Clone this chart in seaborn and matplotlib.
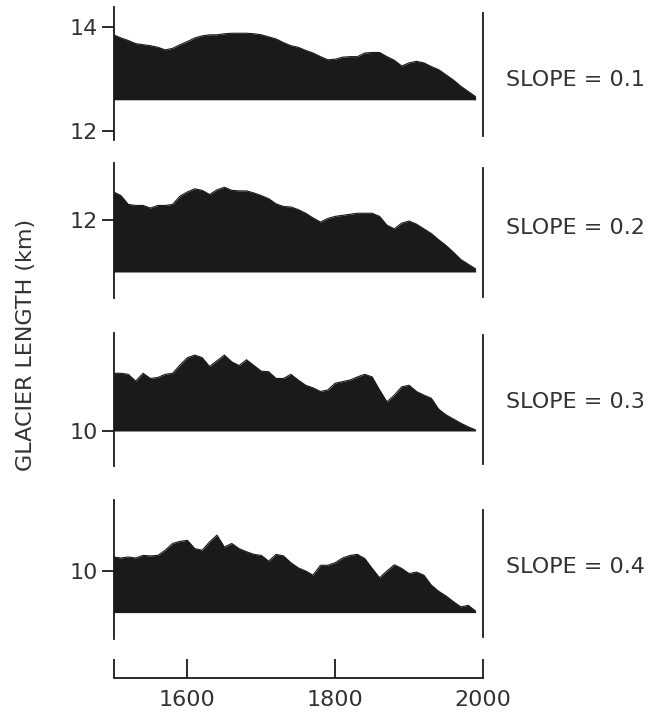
import numpy as np
import pandas as pd
import matplotlib
matplotlib.use("Agg")
import matplotlib.pyplot as plt
import seaborn as sns

sns.set_theme(style="white")
plt.rcParams['font.family'] = ['DejaVu Sans']

# ---------------- data ----------------
years = list(range(1500, 2000, 10))

len_slope01 = [13.85, 13.79, 13.74, 13.68, 13.66, 13.64, 13.61, 13.56, 13.59, 13.66,
               13.72, 13.79, 13.83, 13.85, 13.85, 13.87, 13.88, 13.88, 13.88, 13.87,
               13.85, 13.81, 13.77, 13.70, 13.64, 13.61, 13.55, 13.50, 13.43, 13.37,
               13.38, 13.42, 13.43, 13.43, 13.50, 13.51, 13.51, 13.43, 13.36, 13.25,
               13.31, 13.34, 13.31, 13.24, 13.18, 13.08, 12.98, 12.86, 12.76, 12.66]

len_slope02 = [12.54, 12.47, 12.30, 12.28, 12.28, 12.23, 12.28, 12.28, 12.30, 12.46,
               12.54, 12.60, 12.57, 12.49, 12.58, 12.63, 12.57, 12.56, 12.56, 12.52,
               12.47, 12.41, 12.31, 12.26, 12.25, 12.20, 12.13, 12.04, 11.96, 12.03,
               12.07, 12.09, 12.11, 12.13, 12.13, 12.13, 12.07, 11.90, 11.83, 11.94,
               11.98, 11.92, 11.83, 11.74, 11.62, 11.51, 11.38, 11.24, 11.15, 11.06]

len_slope03 = [11.11, 11.11, 11.09, 10.96, 11.11, 11.01, 11.03, 11.09, 11.11, 11.27,
               11.41, 11.46, 11.41, 11.24, 11.35, 11.46, 11.33, 11.26, 11.37, 11.26,
               11.15, 11.14, 11.01, 11.01, 11.09, 10.98, 10.88, 10.83, 10.76, 10.79,
               10.92, 10.95, 10.98, 11.04, 11.09, 11.04, 10.79, 10.56, 10.69, 10.85,
               10.88, 10.76, 10.69, 10.63, 10.42, 10.31, 10.23, 10.15, 10.08, 10.02]

len_slope04 = [10.27, 10.25, 10.27, 10.25, 10.30, 10.29, 10.30, 10.40, 10.53, 10.57,
               10.59, 10.43, 10.40, 10.56, 10.69, 10.46, 10.53, 10.43, 10.37, 10.32,
               10.30, 10.19, 10.32, 10.29, 10.16, 10.06, 10.00, 9.92, 10.11, 10.11,
               10.16, 10.25, 10.30, 10.32, 10.24, 10.05, 9.87, 10.00, 10.12, 10.05,
               9.95, 9.98, 9.92, 9.73, 9.61, 9.52, 9.41, 9.31, 9.34, 9.23]

series = [len_slope01, len_slope02, len_slope03, len_slope04]
baselines = [12.6, 11.0, 10.0, 9.2]
slope_labels = ["SLOPE = 0.1", "SLOPE = 0.2", "SLOPE = 0.3", "SLOPE = 0.4"]
ytick_values = [[12, 14], [12], [10], [10]]
xtick_values = [1500, 1600, 1800, 2000]
xtick_labels = ["", "1600", "1800", "2000"]
ylabel_text = "GLACIER LENGTH (km)"

# ---------------- layout (pixels) ----------------
W, H = 666, 720
INK = "#1a1a1a"
TXT = "#333333"
FS = 16
PX_PER_KM = 52.0
X_LEFT, X_RIGHT = 113.5, 483.0
# (top, bottom, right_top, right_bottom, reference tick pixel, label centre)
panels_px = [
    (7, 140, 13, 136, 27, 80),
    (163, 298, 168, 297, 220, 228),
    (333, 466, 335, 464, 431, 402),
    (500, 639, 510, 637, 571, 567),
]

fig = plt.figure(figsize=(W / 100, H / 100), dpi=100)
fig.patch.set_facecolor("white")


def add_px_axes(left, top, right, bottom):
    return fig.add_axes([left / W, 1 - bottom / H, (right - left) / W, (bottom - top) / H])


lw = 1.3
for i, vals in enumerate(series):
    top, bot, rtop, rbot, tick_px, lab_px = panels_px[i]
    ref_val = max(ytick_values[i])
    ytop = ref_val + (tick_px - top) / PX_PER_KM
    ybot = ref_val - (bot - tick_px) / PX_PER_KM
    ax = add_px_axes(X_LEFT, top, X_RIGHT, bot)
    ax.set_facecolor("none")
    df = pd.DataFrame({"year": years, "length": vals})
    ax.fill_between(df["year"], baselines[i], df["length"], color=INK, lw=0)
    sns.lineplot(data=df, x="year", y="length", ax=ax, color=INK, lw=0.8)
    ax.set_xlim(1500, 2000)
    ax.set_ylim(ybot, ytop)
    for s in ["top", "bottom"]:
        ax.spines[s].set_visible(False)
    ax.spines["left"].set_visible(True)
    ax.spines["right"].set_visible(True)
    for s in ["left", "right"]:
        ax.spines[s].set_color(INK)
        ax.spines[s].set_linewidth(lw)
    rt = ref_val + (tick_px - rtop) / PX_PER_KM
    rb = ref_val - (rbot - tick_px) / PX_PER_KM
    ax.spines["right"].set_bounds(rb, rt)
    ax.set_xticks([])
    ax.set_yticks(ytick_values[i])
    ax.set_yticklabels([str(v) for v in ytick_values[i]])
    ax.tick_params(axis="y", left=True, right=False, direction="out", length=9,
                   width=lw, color=INK, labelsize=FS, labelcolor=TXT, pad=2)
    ax.set_xlabel("")
    ax.set_ylabel("")
    fig.text(506 / W, 1 - lab_px / H, slope_labels[i], ha="left", va="center",
             fontsize=FS, color=TXT)

# x axis
axx = add_px_axes(X_LEFT, 648, X_RIGHT, 678)
axx.set_facecolor("none")
axx.set_xlim(1500, 2000)
axx.set_ylim(0, 1)
for s in ["top", "left", "right"]:
    axx.spines[s].set_visible(False)
axx.spines["bottom"].set_visible(True)
axx.spines["bottom"].set_color(INK)
axx.spines["bottom"].set_linewidth(lw)
axx.set_yticks([])
axx.set_xticks(xtick_values)
axx.set_xticklabels(xtick_labels)
axx.tick_params(axis="x", bottom=True, direction="in", length=14, width=lw, color=INK,
                labelsize=FS, labelcolor=TXT, pad=9)

fig.text(26 / W, 1 - 345 / H, ylabel_text, rotation=90, ha="center", va="center",
         fontsize=FS, color=TXT)

fig.savefig("out.png", dpi=100, facecolor="white")
